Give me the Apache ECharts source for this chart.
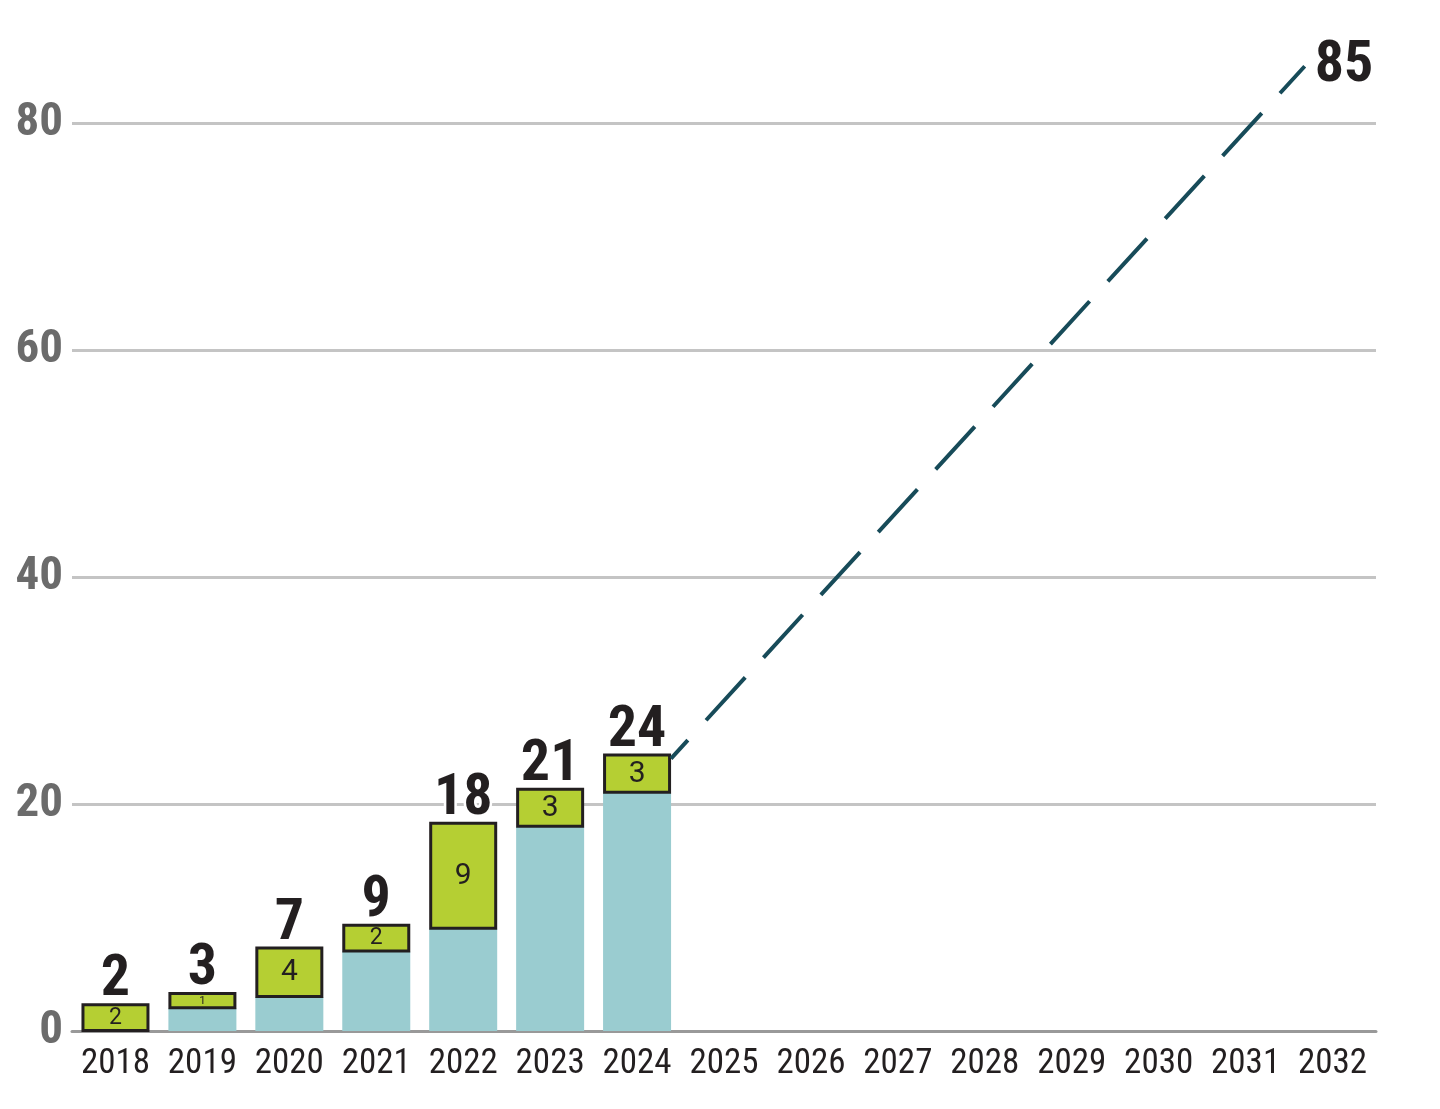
<!DOCTYPE html>
<html>
<head>
<meta charset="utf-8">
<script src="https://cdn.jsdelivr.net/npm/echarts@6/dist/echarts.min.js"></script>
<style>
html,body{margin:0;padding:0;background:#fff;}
#chart{width:1440px;height:1109px;}
</style>
</head>
<body>
<div id="chart"></div>
<script>
const years = ['2018','2019','2020','2021','2022','2023','2024','2025','2026','2027','2028','2029','2030','2031','2032'];
const baseValues = [0, 2, 3, 7, 9, 18, 21];
const addedValues = [2, 1, 4, 2, 9, 3, 3];
const totalValues = [2, 3, 7, 9, 18, 21, 24];
// projection: [category position, value]
const projectionX = [6.39, 13.68];
const projectionY = [24, 85];
const yTicks = [0, 20, 40, 60, 80];

const FONT = "'Roboto Condensed','Liberation Sans Narrow','DejaVu Sans Condensed',sans-serif";
const BAR_W = 68;

const chart = echarts.init(document.getElementById('chart'), null, {renderer:'canvas'});
const option = {
  animation: false,
  backgroundColor: '#fff',
  grid: {left: 72, right: 64, top: 123, bottom: 78, containLabel: false},
  xAxis: [{
    type: 'category',
    data: years,
    boundaryGap: true,
    axisLine: {show: true, lineStyle: {color: '#999', width: 3}},
    axisTick: {show: false},
    axisLabel: {interval: 0, fontFamily: FONT, fontSize: 35, color: '#231F20', margin: 16}
  }, {
    type: 'value', min: -0.5, max: 14.5, show: false
  }],
  yAxis: {
    type: 'value', min: yTicks[0], max: yTicks[yTicks.length-1], interval: 20,
    axisLine: {show: false}, axisTick: {show: false},
    axisLabel: {fontFamily: FONT, fontSize: 47, fontWeight: 'bold', color: '#6b6b6b', margin: 9},
    splitLine: {lineStyle: {color: '#c4c4c4', width: 3}}
  },
  series: [{
    type: 'bar', barWidth: BAR_W,
    data: baseValues,
    itemStyle: {color: '#9ACCD0'},
    z: 2
  }, {
    type: 'custom',
    xAxisIndex: 0, yAxisIndex: 0,
    data: addedValues.map((v, i) => [i, baseValues[i], v, totalValues[i]]),
    encode: {x: 0, y: 3},
    z: 3,
    renderItem: (params, api) => {
      const i = api.value(0), b = api.value(1), a = api.value(2), t = api.value(3);
      const pb = api.coord([i, b]);
      const pt = api.coord([i, b + a]);
      const top = pt[1] - 3.5, bottom = pb[1] - 0.5;
      return {
        type: 'group',
        children: [{
          type: 'rect',
          shape: {x: pb[0] - BAR_W / 2 + 1.5, y: top, width: BAR_W - 3, height: bottom - top},
          style: {fill: '#B5CF33', stroke: '#231F20', lineWidth: 3}
        }, {
          type: 'text', x: pb[0], y: (top + bottom) / 2 + 0.5,
          style: {text: String(a), fontFamily: 'Roboto', fontSize: Math.min(30, a * 11.5),
                  fill: '#231F20', align: 'center', verticalAlign: 'middle'}
        }, {
          type: 'text', x: pb[0], y: pt[1] + 1.5,
          style: {text: String(t), fontFamily: FONT, fontSize: 58, fontWeight: 'bold',
                  fill: '#231F20', stroke: '#fff', lineWidth: 5, strokeFirst: true,
                  align: 'center', verticalAlign: 'bottom'}
        }]
      };
    }
  }, {
    type: 'line', xAxisIndex: 1, clip: false,
    data: projectionX.map((x, i) => [x, projectionY[i]]),
    symbol: 'none',
    lineStyle: {color: '#174B59', width: 4, type: [58, 27], dashOffset: 33, cap: 'butt'},
    endLabel: {
      show: true, distance: 10,
      fontFamily: FONT, fontSize: 58, fontWeight: 'bold', color: '#231F20',
      formatter: p => p.value[1]
    },
    z: 5
  }]
};
chart.setOption(option);
</script>
</body>
</html>
